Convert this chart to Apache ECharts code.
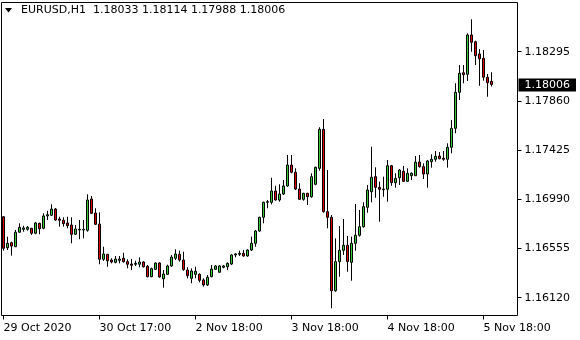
<!DOCTYPE html>
<html>
<head>
<meta charset="utf-8">
<script src="https://cdn.jsdelivr.net/npm/echarts@6/dist/echarts.min.js"></script>
<style>
html,body{margin:0;padding:0;background:#fff;overflow:hidden;}
#chart{width:580px;height:340px;}
</style>
</head>
<body>
<div id="chart"></div>
<script>
const symbol = 'EURUSD';
const timeframe = 'H1';
const tickLabels = ['29 Oct 2020', '30 Oct 17:00', '2 Nov 18:00', '3 Nov 18:00', '4 Nov 18:00', '5 Nov 18:00'];
const barsPerTick = 24;
const emptySlots = 6;
const priceTicks = [1.16120, 1.16555, 1.16990, 1.17425, 1.17860, 1.18295];
const yMin = 1.15963;
const yMax = 1.18730;

const open = [1.16836,1.16562,1.16607,1.16571,1.16699,1.16725,1.16725,1.16734,1.16690,1.16778,
1.16734,1.16843,1.16849,1.16904,1.16816,1.16805,1.16781,1.16763,1.16681,1.16719,
1.16719,1.16716,1.16993,1.16869,1.16772,1.16460,1.16504,1.16454,1.16433,1.16451,
1.16469,1.16439,1.16418,1.16416,1.16416,1.16436,1.16398,1.16306,1.16371,1.16427,
1.16288,1.16327,1.16401,1.16469,1.16504,1.16454,1.16365,1.16292,1.16327,1.16327,
1.16277,1.16233,1.16306,1.16371,1.16345,1.16389,1.16394,1.16418,1.16498,1.16504,
1.16513,1.16489,1.16542,1.16601,1.16710,1.16831,1.16964,1.16964,1.17064,1.16984,
1.17037,1.17108,1.17293,1.17229,1.17081,1.16990,1.17043,1.17013,1.17123,1.17264,
1.17609,1.16881,1.16831,1.16182,1.16439,1.16539,1.16584,1.16433,1.16601,1.16672,
1.16748,1.16919,1.17057,1.17190,1.17096,1.17075,1.17079,1.17287,1.17137,1.17181,
1.17238,1.17149,1.17199,1.17199,1.17320,1.17279,1.17214,1.17323,1.17344,1.17373,
1.17353,1.17344,1.17450,1.17618,1.17936,1.18109,1.18095,1.18443,1.18383,1.18275,
1.18237,1.18069,1.18033];
const high = [1.16843,1.16660,1.16615,1.16719,1.16778,1.16757,1.16754,1.16737,1.16790,1.16783,
1.16866,1.16889,1.16946,1.16913,1.16836,1.16831,1.16836,1.16831,1.16763,1.16807,
1.16807,1.17034,1.17019,1.16911,1.16875,1.16571,1.16507,1.16469,1.16489,1.16489,
1.16518,1.16460,1.16462,1.16447,1.16477,1.16442,1.16409,1.16386,1.16430,1.16433,
1.16365,1.16412,1.16498,1.16548,1.16536,1.16527,1.16389,1.16380,1.16394,1.16336,
1.16292,1.16321,1.16409,1.16409,1.16409,1.16409,1.16433,1.16504,1.16513,1.16536,
1.16542,1.16548,1.16660,1.16719,1.16836,1.16969,1.16984,1.17181,1.17110,1.17123,
1.17161,1.17382,1.17382,1.17264,1.17132,1.17048,1.17048,1.17220,1.17279,1.17627,
1.17700,1.17249,1.16851,1.16645,1.16754,1.16816,1.16666,1.16660,1.16949,1.16896,
1.16964,1.17117,1.17455,1.17273,1.17146,1.17190,1.17338,1.17293,1.17220,1.17258,
1.17285,1.17264,1.17229,1.17373,1.17382,1.17308,1.17338,1.17388,1.17417,1.17408,
1.17417,1.17485,1.17691,1.18016,1.18177,1.18177,1.18458,1.18581,1.18392,1.18319,
1.18310,1.18098,1.18114];
const low = [1.16536,1.16542,1.16492,1.16568,1.16696,1.16704,1.16713,1.16675,1.16681,1.16681,
1.16725,1.16807,1.16843,1.16801,1.16748,1.16748,1.16734,1.16601,1.16675,1.16637,
1.16645,1.16704,1.16863,1.16763,1.16416,1.16445,1.16394,1.16424,1.16424,1.16424,
1.16430,1.16380,1.16365,1.16401,1.16389,1.16386,1.16301,1.16301,1.16365,1.16297,
1.16209,1.16321,1.16394,1.16454,1.16439,1.16359,1.16292,1.16248,1.16292,1.16257,
1.16218,1.16224,1.16301,1.16365,1.16342,1.16380,1.16365,1.16409,1.16477,1.16489,
1.16483,1.16483,1.16533,1.16571,1.16704,1.16778,1.16911,1.16946,1.16978,1.16969,
1.17028,1.17102,1.17220,1.17072,1.16985,1.16978,1.16940,1.17004,1.17114,1.17243,
1.16872,1.16734,1.16027,1.16173,1.16306,1.16498,1.16350,1.16271,1.16536,1.16660,
1.16739,1.16872,1.16964,1.17004,1.16792,1.17013,1.16969,1.17110,1.17093,1.17117,
1.17143,1.17143,1.17161,1.17196,1.17270,1.17170,1.17093,1.17270,1.17323,1.17344,
1.17331,1.17270,1.17397,1.17574,1.17868,1.18016,1.18036,1.18295,1.18177,1.17994,
1.18039,1.17897,1.17988];
const close = [1.16557,1.16601,1.16577,1.16699,1.16743,1.16737,1.16743,1.16690,1.16781,1.16730,
1.16843,1.16854,1.16904,1.16807,1.16805,1.16775,1.16757,1.16681,1.16728,1.16725,
1.16725,1.16984,1.16866,1.16769,1.16460,1.16507,1.16447,1.16436,1.16462,1.16462,
1.16439,1.16416,1.16407,1.16424,1.16436,1.16394,1.16306,1.16377,1.16427,1.16303,
1.16330,1.16401,1.16480,1.16507,1.16454,1.16368,1.16315,1.16356,1.16354,1.16274,
1.16233,1.16301,1.16374,1.16401,1.16401,1.16401,1.16424,1.16498,1.16507,1.16513,
1.16489,1.16542,1.16601,1.16710,1.16831,1.16964,1.16969,1.17064,1.16984,1.17037,
1.17108,1.17293,1.17229,1.17081,1.16990,1.17043,1.17013,1.17190,1.17273,1.17609,
1.16881,1.16831,1.16182,1.16439,1.16539,1.16584,1.16439,1.16601,1.16672,1.16748,
1.16925,1.17072,1.17185,1.17096,1.17079,1.17081,1.17287,1.17137,1.17176,1.17249,
1.17149,1.17220,1.17220,1.17318,1.17279,1.17214,1.17329,1.17344,1.17370,1.17349,
1.17344,1.17450,1.17618,1.17936,1.18104,1.18092,1.18443,1.18378,1.18260,1.18233,
1.18069,1.18021,1.18006];

const last = close.length - 1;
const categories = Array.from({length: close.length + emptySlots}, (_, i) => String(i));
const candles = open.map((o, i) => [o, close[i], low[i], high[i]]);
const fmt = v => v.toFixed(5);
const titleText = symbol + ',' + timeframe + '  ' + fmt(open[last]) + ' ' + fmt(high[last]) + ' ' + fmt(low[last]) + ' ' + fmt(close[last]);
const FONT = 'DejaVu Sans';

const chart = echarts.init(document.getElementById('chart'), null, {renderer: 'canvas'});
chart.setOption({
  animation: false,
  backgroundColor: '#ffffff',
  textStyle: {fontFamily: FONT},
  title: {
    text: titleText, left: 21, top: 5, padding: 0,
    textStyle: {fontSize: 11, fontWeight: 'normal', color: '#000', fontFamily: FONT}
  },
  graphic: [{
    type: 'polygon', shape: {points: [[5, 8], [12, 8], [8.5, 12.5]]},
    style: {fill: '#000'}, silent: true
  }],
  grid: {
    left: 1.5, top: 2.5, width: 516, height: 313,
    show: true, borderColor: '#000', borderWidth: 1, backgroundColor: 'transparent'
  },
  xAxis: {
    type: 'category', data: categories, boundaryGap: true,
    axisLine: {show: false},
    axisTick: {show: true, interval: barsPerTick - 1, alignWithLabel: true, length: 4, lineStyle: {color: '#000'}},
    axisLabel: {
      interval: barsPerTick - 1, align: 'left', margin: 7, color: '#000', fontSize: 11, fontFamily: FONT,
      formatter: (v, i) => tickLabels[i / barsPerTick] || ''
    },
    splitLine: {show: false}
  },
  yAxis: {
    type: 'value', position: 'right', min: yMin, max: yMax,
    axisLine: {show: false},
    axisTick: {show: true, length: 4, customValues: priceTicks, lineStyle: {color: '#000'}},
    axisLabel: {customValues: priceTicks, margin: 7, color: '#000', fontSize: 11, fontFamily: FONT, formatter: v => fmt(v)},
    splitLine: {show: false}
  },
  series: [{
    type: 'candlestick',
    data: candles,
    barWidth: 2,
    itemStyle: {color: '#32cd32', color0: '#e00000', borderColor: '#000', borderColor0: '#000', borderWidth: 1},
    markLine: {
      silent: true, symbol: 'none', animation: false,
      lineStyle: {color: 'rgba(0,0,0,0)', width: 1, type: 'solid'},
      label: {
        show: true, position: 'end', distance: 1,
        formatter: () => fmt(close[last]),
        color: '#fff', backgroundColor: '#000', padding: [1, 6, 1, 6],
        fontSize: 11, lineHeight: 11, fontFamily: FONT
      },
      data: [{yAxis: close[last]}]
    }
  }]
});
</script>
</body>
</html>
